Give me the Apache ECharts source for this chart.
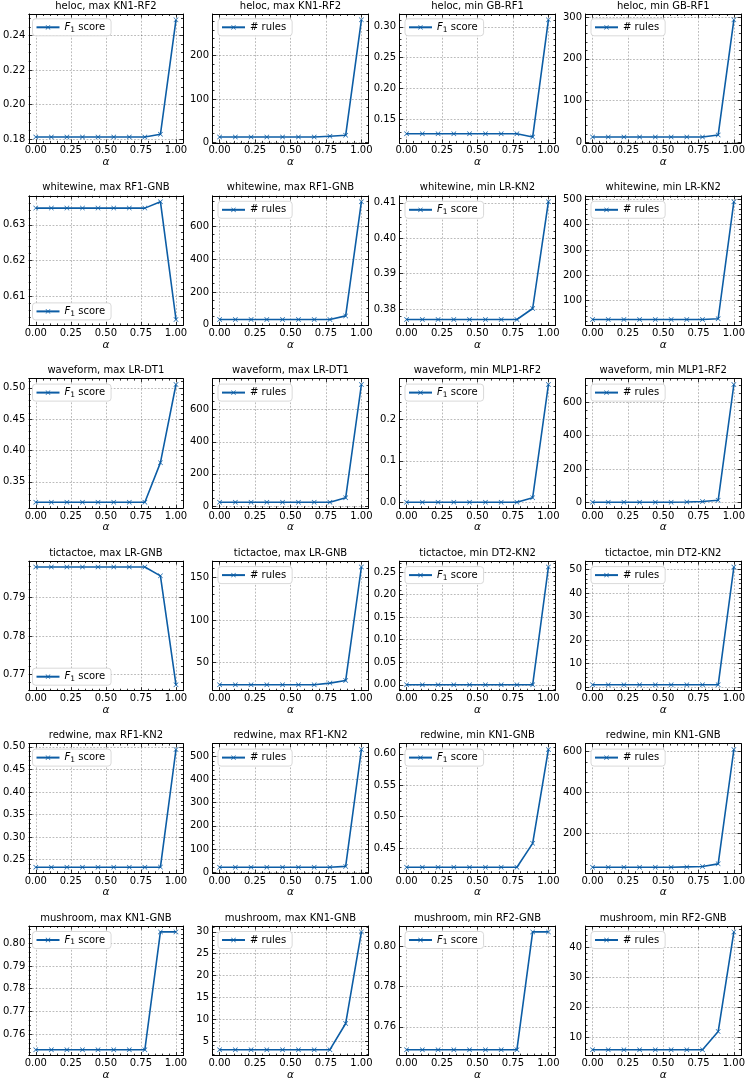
<!DOCTYPE html>
<html>
<head>
<meta charset="utf-8">
<title>alpha sweep</title>
<script src="https://cdn.jsdelivr.net/npm/echarts@6/dist/echarts.min.js"></script>
<style>
  html, body { margin: 0; padding: 0; background: #fff; }
  #chart { width: 748px; height: 1083px; }
</style>
</head>
<body>
<div id="chart"></div>
<script>
// alpha on the x axis (10 steps from 0 to 1)
var alpha = [0, 0.111, 0.222, 0.333, 0.444, 0.556, 0.667, 0.778, 0.889, 1.0]
var xTicks = [0, 0.25, 0.5, 0.75, 1.0]

// one entry per experiment, each gets an F1 panel and a # rules panel
var titles = [
  'heloc, max KN1-RF2', 'heloc, min GB-RF1',
  'whitewine, max RF1-GNB', 'whitewine, min LR-KN2',
  'waveform, max LR-DT1', 'waveform, min MLP1-RF2',
  'tictactoe, max LR-GNB', 'tictactoe, min DT2-KN2',
  'redwine, max RF1-KN2', 'redwine, min KN1-GNB',
  'mushroom, max KN1-GNB', 'mushroom, min RF2-GNB'
]

var f1Score = [
  [0.1813, 0.1813, 0.1813, 0.1813, 0.1813, 0.1813, 0.1813, 0.1813, 0.1829, 0.2490],
  [0.1269, 0.1269, 0.1269, 0.1269, 0.1269, 0.1269, 0.1269, 0.1269, 0.1215, 0.3113],
  [0.6347, 0.6347, 0.6347, 0.6347, 0.6347, 0.6347, 0.6347, 0.6347, 0.6365, 0.6035],
  [0.3771, 0.3771, 0.3771, 0.3771, 0.3771, 0.3771, 0.3771, 0.3771, 0.3802, 0.4103],
  [0.3173, 0.3173, 0.3173, 0.3173, 0.3173, 0.3173, 0.3173, 0.3173, 0.3806, 0.5053],
  [0.0, 0.0, 0.0, 0.0, 0.0, 0.0, 0.0, 0.0, 0.0112, 0.284],
  [0.7979, 0.7979, 0.7979, 0.7979, 0.7979, 0.7979, 0.7979, 0.7979, 0.7956, 0.7673],
  [0.0, 0.0, 0.0, 0.0, 0.0, 0.0, 0.0, 0.0, 0.0, 0.261],
  [0.233, 0.233, 0.233, 0.233, 0.233, 0.233, 0.233, 0.233, 0.2335, 0.494],
  [0.4192, 0.4192, 0.4192, 0.4192, 0.4192, 0.4192, 0.4192, 0.4192, 0.4574, 0.6069],
  [0.7533, 0.7533, 0.7533, 0.7533, 0.7533, 0.7533, 0.7533, 0.7533, 0.8049, 0.8049],
  [0.7486, 0.7486, 0.7486, 0.7486, 0.7486, 0.7486, 0.7486, 0.7486, 0.8073, 0.8073]
]

var numRules = [
  [12, 12, 12, 12, 12, 12, 12, 14, 16, 283],
  [13, 13, 13, 13, 13, 13, 13, 13, 18, 293],
  [32, 32, 32, 32, 32, 32, 32, 32, 54, 750],
  [26, 26, 26, 26, 26, 26, 26, 26, 29, 490],
  [23, 23, 23, 23, 23, 23, 23, 23, 51, 757],
  [1, 1, 1, 1, 1, 1, 3, 6, 13, 704],
  [24, 24, 24, 24, 24, 24, 24, 26, 29, 162],
  [1, 1, 1, 1, 1, 1, 1, 1, 1, 51],
  [21, 21, 21, 21, 21, 21, 21, 21, 25, 530],
  [33, 33, 33, 33, 33, 33, 35, 37, 50, 611],
  [3, 3, 3, 3, 3, 3, 3, 3, 9, 30],
  [6, 6, 6, 6, 6, 6, 6, 6, 12, 45]
]

// major tick step of each y axis
var f1Step = [0.02, 0.05, 0.01, 0.01, 0.05, 0.1, 0.01, 0.05, 0.05, 0.05, 0.01, 0.02]
var rulesStep = [100, 100, 200, 100, 200, 200, 50, 10, 100, 200, 5, 10]

// F1 panels whose legend sits in the lower left
var legendLow = [2, 6]

var FONT = 'DejaVu Sans'
var BLUE = '#0C5DA5'
var X_MARK = 'path://M0,0.9L0.9,0L5,4.1L9.1,0L10,0.9L5.9,5L10,9.1L9.1,10L5,5.9L0.9,10L0,9.1L4.1,5Z'

var colLeft = [27, 212.5, 399.5, 585.5]
var rowTop = [13.3, 195.8, 378.6, 561.1, 743.6, 926]
var plotW = 156
var plotH = 129.6

function limits(vals) {
  var lo = Math.min.apply(null, vals)
  var hi = Math.max.apply(null, vals)
  var pad = (hi - lo) * 0.05
  return [lo - pad, hi + pad]
}

function multiples(lo, hi, step) {
  var out = []
  var k0 = Math.ceil(lo / step - 1e-7)
  var k1 = Math.floor(hi / step + 1e-7)
  for (var k = k0; k <= k1; k++) out.push(+(k * step).toFixed(10))
  return out
}

function minorOf(lo, hi, step) {
  var mant = step / Math.pow(10, Math.floor(Math.log10(step) + 1e-9))
  var ndiv = Math.abs(mant - 2) < 1e-6 ? 4 : 5
  var m = step / ndiv
  return multiples(lo, hi, m).filter(function (v) {
    var r = v / step
    var onMajor = Math.abs(r - Math.round(r)) < 1e-6
    var onEdge = Math.abs(v - lo) < m * 0.3 || Math.abs(v - hi) < m * 0.3
    return !onMajor && !onEdge
  })
}

function decimals(step) {
  return Math.max(0, -Math.floor(Math.log10(step) + 1e-9))
}

var tickStyle = { color: '#000', width: 0.8 }
var spine = { show: true, onZero: false, lineStyle: { color: '#000', width: 1 } }
var noSpine = { show: false, onZero: false }
var gridLine = { show: true, lineStyle: { color: 'rgba(0,0,0,0.45)', width: 0.6, type: [1.8, 1.6] } }
var labelText = { color: '#000', fontFamily: FONT, fontSize: 10 }

var xLim = [-0.05, 1.05]
var xMinor = minorOf(xLim[0], xLim[1], 0.25)

var grids = [], xAxes = [], yAxes = [], series = [], legends = []

function axis(gi, pos, lim, ticks, len, major) {
  return {
    type: 'value', gridIndex: gi, position: pos,
    min: lim[0], max: lim[1],
    axisLine: major ? spine : noSpine,
    axisTick: { show: true, inside: true, length: len, customValues: ticks, lineStyle: tickStyle },
    axisLabel: { show: false },
    splitLine: { show: false }
  }
}

for (var e = 0; e < titles.length; e++) {
  for (var kind = 0; kind < 2; kind++) {
    var g = grids.length
    var row = Math.floor(e / 2)
    var col = (e % 2) * 2 + kind
    var vals = kind === 0 ? f1Score[e] : numRules[e]
    var step = kind === 0 ? f1Step[e] : rulesStep[e]
    var yLim = limits(vals)
    var yMajor = multiples(yLim[0], yLim[1], step)
    var yMinor = minorOf(yLim[0], yLim[1], step)
    var dec = decimals(step)

    grids.push({ left: colLeft[col], top: rowTop[row], width: plotW, height: plotH, containLabel: false })

    var xb = axis(g, 'bottom', xLim, xTicks, 3.5, true)
    xb.axisLabel = Object.assign({ show: true, customValues: xTicks, margin: 3,
      formatter: function (v) { return v.toFixed(2) } }, labelText)
    xb.splitLine = gridLine
    xb.name = 'α'
    xb.nameLocation = 'middle'
    xb.nameGap = 14
    xb.nameTextStyle = { color: '#000', fontFamily: FONT, fontSize: 10.5, fontStyle: 'italic' }
    var xt = axis(g, 'top', xLim, xTicks, 3.5, true)
    xt.name = titles[e]
    xt.nameLocation = 'middle'
    xt.nameGap = 3
    xt.nameTextStyle = { color: '#000', fontFamily: FONT, fontSize: 10 }
    xAxes.push(xb, axis(g, 'bottom', xLim, xMinor, 2, false), xt, axis(g, 'top', xLim, xMinor, 2, false))

    var yl = axis(g, 'left', yLim, yMajor, 3.5, true)
    yl.axisLabel = Object.assign({ show: true, customValues: yMajor, margin: 3.5,
      formatter: (function (d) { return function (v) { return v.toFixed(d) } })(dec) }, labelText)
    yl.splitLine = gridLine
    yAxes.push(yl, axis(g, 'left', yLim, yMinor, 2, false),
      axis(g, 'right', yLim, yMajor, 3.5, true), axis(g, 'right', yLim, yMinor, 2, false))

    var name = (kind === 0 ? 'f1-' : 'rules-') + e
    series.push({
      type: 'line', name: name,
      xAxisIndex: g * 4, yAxisIndex: g * 4,
      data: alpha.map(function (a, i) { return [a, vals[i]] }),
      symbol: X_MARK, symbolSize: 5, showAllSymbol: true,
      lineStyle: { color: BLUE, width: 1.6 },
      itemStyle: { color: BLUE },
      emphasis: { disabled: true },
      z: 3
    })

    var lg = {
      data: [name], orient: 'vertical',
      left: colLeft[col] + 5.5,
      backgroundColor: '#fff', borderColor: '#cfcfcf', borderWidth: 0.8, borderRadius: 3,
      padding: [2, 6, 2, 3], itemWidth: 23, itemHeight: 6, itemGap: 0,
      selectedMode: false,
      textStyle: {
        color: '#000', fontFamily: FONT, fontSize: 10, lineHeight: 13,
        rich: {
          i: { fontFamily: FONT, fontSize: 10, fontStyle: 'italic', lineHeight: 13 },
          s: { fontFamily: FONT, fontSize: 7.5, lineHeight: 9, verticalAlign: 'bottom' },
          t: { fontFamily: FONT, fontSize: 10, lineHeight: 13 }
        }
      },
      formatter: function (n) { return n.indexOf('f1') === 0 ? '{i|F}{s|1}{t| score}' : '# rules' }
    }
    if (kind === 0 && legendLow.indexOf(e) >= 0) lg.bottom = 1083 - (rowTop[row] + plotH) + 5.5
    else lg.top = rowTop[row] + 5.5
    legends.push(lg)
  }
}

var chart = echarts.init(document.getElementById('chart'))
chart.setOption({
  animation: false,
  backgroundColor: '#fff',
  grid: grids,
  xAxis: xAxes,
  yAxis: yAxes,
  legend: legends,
  series: series
})
</script>
</body>
</html>
